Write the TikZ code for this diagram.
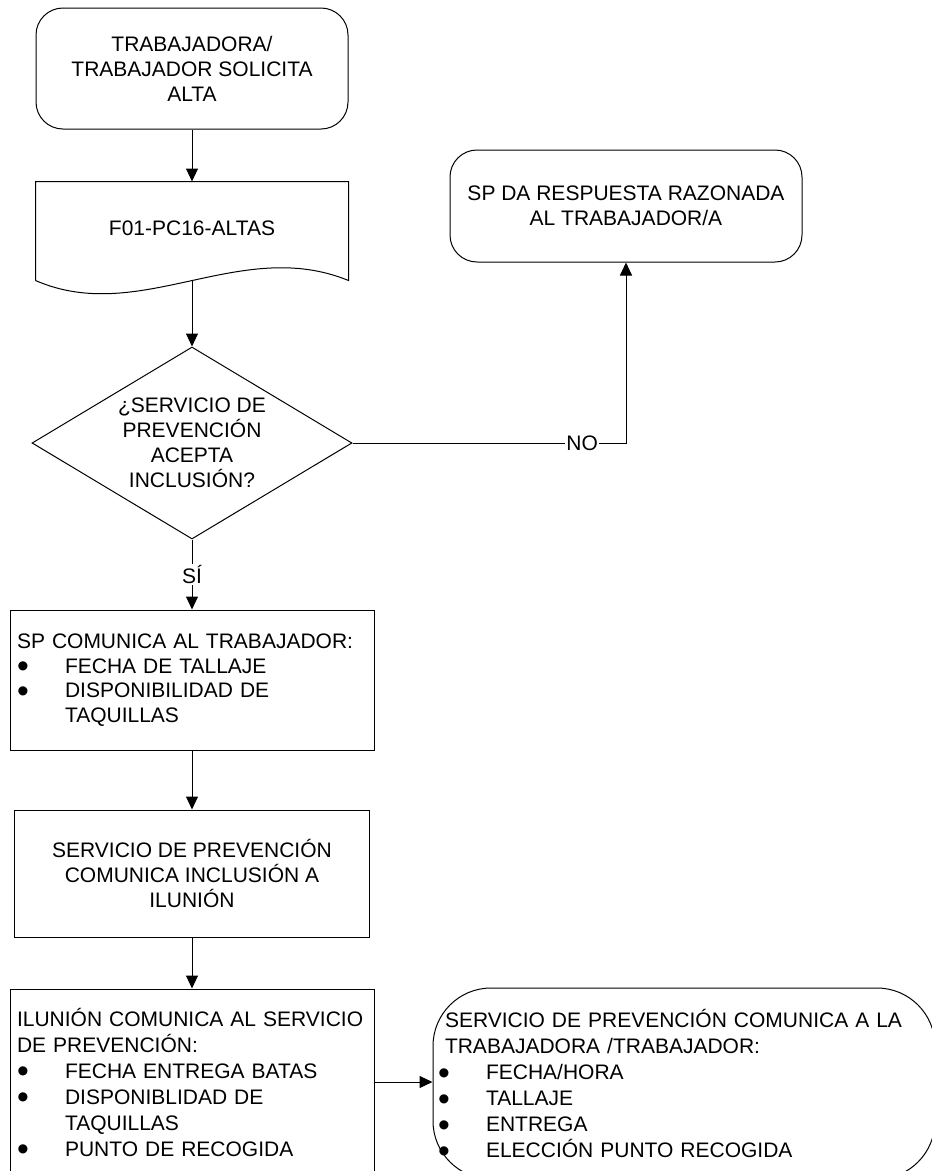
\documentclass[tikz,border=0pt]{standalone}
\usepackage{fontspec}
\setmainfont{Liberation Sans}
\usetikzlibrary{arrows.meta,shapes.geometric}
\newcommand{\bul}{\makebox[48pt][l]{\smash{\raisebox{-4.5pt}{\scalebox{1.6}{\textbullet}}}}}
\newcommand{\cont}{\hspace*{48pt}}

\begin{document}
\begin{tikzpicture}[x=1pt,y=-1pt,>={Triangle[length=13pt,width=12pt]},line width=1pt,
  font=\fontsize{21}{25}\selectfont]
  \tikzstyle{terminal}=[rectangle,rounded corners=27pt,draw,align=center,inner sep=0pt]
  \tikzstyle{process}=[rectangle,draw,inner sep=0pt]
  \tikzstyle{decision}=[diamond,draw,aspect=1.667,align=center,inner sep=0pt,
                        minimum width=320pt,minimum height=192pt]
  \tikzstyle{listbox}=[process,align=left,inner xsep=7pt,text width=350pt]
  \tikzstyle{answer}=[fill=white,inner sep=1pt]
  \tikzstyle{flow}=[->]
  \useasboundingbox (0,0) rectangle (932,1171);
  \clip (0,0) rectangle (932,1171);

  % left column
  \node[terminal,minimum width=312pt,minimum height=121pt] (start) at (192,68.5)
    {TRABAJADORA/\\TRABAJADOR SOLICITA\\ALTA};
  \node[process,draw=none,minimum width=312pt,minimum height=98pt] (form) at (192,231)
    {\raisebox{5pt}{F01-PC16-ALTAS}};
  \draw (form.south west) -- (form.north west) -- (form.north east) -- (form.south east)
    .. controls (240,236) and (140,326) .. (form.south west);
  \node[decision] (decision) at (192,443)
    {¿SERVICIO DE\\PREVENCIÓN\\ACEPTA\\INCLUSIÓN?};
  \node[listbox,minimum height=140pt,font=\fontsize{21}{24.5}\selectfont] (inform) at (192,680)
    {SP COMUNICA AL TRABAJADOR:\\ \bul FECHA DE TALLAJE\\ \bul DISPONIBILIDAD DE\\ \cont TAQUILLAS};
  \node[process,align=center,minimum width=355pt,minimum height=127pt] (notice) at (192,873.5)
    {SERVICIO DE PREVENCIÓN\\COMUNICA INCLUSIÓN A\\ILUNIÓN};
  \node[listbox,minimum height=186pt,font=\fontsize{21}{26}\selectfont] (ilunion) at (192,1082)
    {ILUNIÓN COMUNICA AL SERVICIO\\DE PREVENCIÓN:\\ \bul FECHA ENTREGA BATAS\\
     \bul DISPONIBLIDAD DE\\ \cont TAQUILLAS\\ \bul PUNTO DE RECOGIDA};

  % right column
  \node[terminal,minimum width=352pt,minimum height=112pt] (reply) at (626,206)
    {SP DA RESPUESTA RAZONADA\\AL TRABAJADOR/A};
  \node[terminal,rounded corners=58pt,align=left,text width=478pt,minimum width=502pt,
    minimum height=191pt,font=\fontsize{21}{26}\selectfont] (notify) at (684,1083.5)
    {SERVICIO DE PREVENCIÓN COMUNICA A LA\\TRABAJADORA /TRABAJADOR:\\
     \hspace*{-7pt}\bul FECHA/HORA\\ \hspace*{-7pt}\bul TALLAJE\\
     \hspace*{-7pt}\bul ENTREGA\\ \hspace*{-7pt}\bul ELECCIÓN PUNTO RECOGIDA};

  % connectors
  \draw[flow] (start) -- (form);
  \draw[flow] (form) -- (decision);
  \draw[flow] (decision) -- node[answer] {SÍ} (inform);
  \draw[flow] (decision) -| node[answer,pos=0.42] {NO} (reply);
  \draw[flow] (inform) -- (notice);
  \draw[flow] (notice) -- (ilunion);
  \draw[flow] (ilunion.east) -- (ilunion.east -| notify.west);
\end{tikzpicture}
\end{document}
